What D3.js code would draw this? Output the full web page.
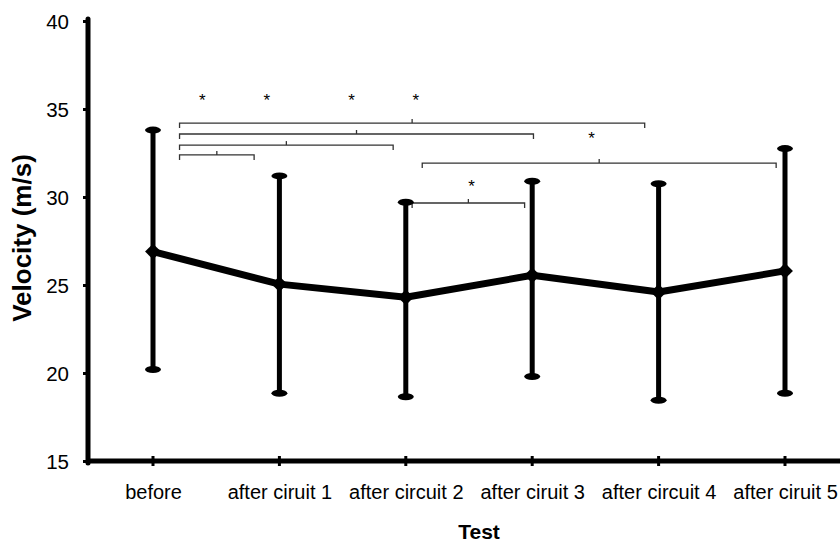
<!DOCTYPE html>
<html>
<head>
<meta charset="utf-8">
<script src="https://cdn.jsdelivr.net/npm/d3@7"></script>
<style>
  html, body { margin: 0; padding: 0; background: #fff; }
  svg { display: block; font-family: "Liberation Sans", Arial, sans-serif; }
</style>
</head>
<body>
<svg id="chart" width="840" height="544"></svg>
<script>
// ---- data ----
const categories = ["before", "after ciruit 1", "after circuit 2", "after ciruit 3", "after circuit 4", "after ciruit 5"];
const means = [26.9, 25.05, 24.3, 25.55, 24.6, 25.8];
const upper = [33.8, 31.2, 29.7, 30.9, 30.75, 32.75];
const lower = [20.2, 18.85, 18.65, 19.8, 18.45, 18.85];
const yTicks = [15, 20, 25, 30, 35, 40];
// significance brackets: [from (category position), to (category position), level (m/s)]
const bracketFrom = [0.21, 0.21, 0.21, 0.21, 2.13, 2.05];
const bracketTo = [3.89, 3.01, 1.90, 0.80, 4.93, 2.94];
const bracketLevel = [34.2, 33.58, 32.95, 32.39, 31.93, 29.66];
// asterisks: [category position, level (m/s)]
const starPos = [0.39, 0.90, 1.57, 2.08, 3.47, 2.52];
const starLevel = [35.74, 35.74, 35.74, 35.74, 33.58, 30.85];

// ---- layout ----
const svg = d3.select("#chart");
const mLeft = 88, mTop = 21, mBottom = 461;
const y = d3.scaleLinear().domain([15, 40]).range([mBottom, mTop]);
const x = d3.scalePoint().domain(categories).range([153, 785]);
const step = x.step();
const xPos = p => x(categories[0]) + p * step;

// y axis
const yAxis = d3.axisLeft(y).tickValues(yTicks).tickSize(5).tickPadding(14).tickFormat(d3.format("d"));
const gy = svg.append("g").attr("transform", `translate(${mLeft},0)`).call(yAxis);
gy.select(".domain").remove();
gy.selectAll(".tick line").attr("stroke", "#000").attr("stroke-width", 3);
gy.selectAll(".tick text").attr("font-size", 20.5).attr("fill", "#000").attr("dy", "0.35em");
svg.append("line").attr("x1", mLeft).attr("x2", mLeft).attr("y1", y(40) - 2).attr("y2", y(15) + 2)
  .attr("stroke", "#000").attr("stroke-width", 5).attr("stroke-linecap", "round");

// x axis
const xAxis = d3.axisBottom(x).tickSize(0).tickPadding(24);
const gx = svg.append("g").attr("transform", `translate(0,${mBottom})`).call(xAxis);
gx.select(".domain").remove();
gx.selectAll(".tick text").attr("font-size", 20).attr("fill", "#000");
svg.append("line").attr("x1", mLeft).attr("x2", 846).attr("y1", mBottom).attr("y2", mBottom)
  .attr("stroke", "#000").attr("stroke-width", 5);
svg.append("g").selectAll("line").data(categories).join("line")
  .attr("x1", d => x(d)).attr("x2", d => x(d)).attr("y1", mBottom - 5).attr("y2", mBottom + 5)
  .attr("stroke", "#000").attr("stroke-width", 3);

// axis titles
svg.append("text").attr("transform", `translate(31,238) rotate(-90)`)
  .attr("text-anchor", "middle").attr("font-weight", "bold").attr("font-size", 26)
  .text("Velocity (m/s)");
svg.append("text").attr("x", 479).attr("y", 539).attr("text-anchor", "middle")
  .attr("font-weight", "bold").attr("font-size", 21).text("Test");

// brackets
const bg = svg.append("g").attr("fill", "none").attr("stroke", "#333").attr("stroke-width", 1.3);
bracketFrom.forEach((f, i) => {
  const x1 = xPos(f), x2 = xPos(bracketTo[i]), yy = y(bracketLevel[i]);
  const xm = (x1 + x2) / 2;
  bg.append("path").attr("d", `M${x1},${yy + 5}V${yy}H${x2}V${yy + 5}`);
  bg.append("path").attr("d", `M${xm},${yy}V${yy - 4}`);
});

// stars
svg.append("g").selectAll("text").data(starPos).join("text")
  .attr("x", d => xPos(d)).attr("y", (d, i) => y(starLevel[i]) + 10)
  .attr("text-anchor", "middle").attr("font-size", 17).attr("fill", "#000").text("*");

// error bars
const eg = svg.append("g");
categories.forEach((c, i) => {
  eg.append("line").attr("x1", x(c)).attr("x2", x(c)).attr("y1", y(upper[i])).attr("y2", y(lower[i]))
    .attr("stroke", "#000").attr("stroke-width", 5);
  [upper[i], lower[i]].forEach(v => {
    eg.append("ellipse").attr("cx", x(c)).attr("cy", y(v)).attr("rx", 8).attr("ry", 3.5).attr("fill", "#000");
  });
});

// mean line
const line = d3.line().x((d, i) => x(categories[i])).y(d => y(d));
svg.append("path").datum(means).attr("d", line).attr("fill", "none")
  .attr("stroke", "#000").attr("stroke-width", 7).attr("stroke-linejoin", "round");
svg.append("g").selectAll("path").data(means).join("path")
  .attr("transform", (d, i) => `translate(${x(categories[i])},${y(d)})`)
  .attr("d", d3.symbol().type(d3.symbolDiamond2).size(160))
  .attr("fill", "#000");
</script>
</body>
</html>
